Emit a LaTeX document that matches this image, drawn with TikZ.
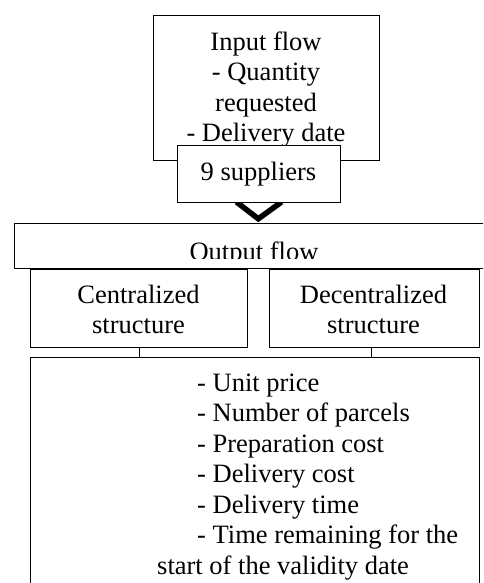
\documentclass[tikz,border=0pt]{standalone}
\usepackage{fontspec}
\setmainfont{Liberation Serif}
\begin{document}
\begin{tikzpicture}[x=1pt,y=-1pt,
  box/.style={draw, line width=1.2pt, fill=white, inner sep=0pt, anchor=north west},
  txt/.style={inner sep=0pt, font=\fontsize{26.5pt}{30.5pt}\selectfont},
  link/.style={draw, line width=1.2pt},
  chevron/.style={draw, line width=5.5pt, line join=miter},
]
% page frame (also crops the boxes that run past the edges)
\useasboundingbox (0,0) rectangle (483,583);
\clip (0,0) rectangle (483,583);
\fill[white] (0,0) rectangle (483,583);

% input flow
\node[box, minimum width=226pt, minimum height=145pt] (inbox) at (153,15) {};
\node[txt, anchor=north, align=center] (intxt) at (266,28.65)
  {\strut Input flow\\ \strut - Quantity\\ \strut requested\\ \strut - Delivery date};

% chevron under the supplier box
\coordinate (vtip) at (258.3,218.8);
\coordinate (vleft) at (236.5,202);
\coordinate (vright) at (281.5,202);
\draw[chevron] (vleft) -- (vtip) -- (vright);

% suppliers
\node[box, minimum width=163pt, minimum height=57pt] (sup) at (177,145) {};
\node[txt, anchor=base] (suptxt) at (258.5,180) {9 suppliers};

% output flow
\node[box, minimum width=490pt, minimum height=45pt] (outbox) at (14,223) {};
\begin{scope}
  \clip (14,223) rectangle (483,258);
  \node[txt, anchor=base] (outtxt) at (254,260.5) {Output flow};
\end{scope}

% structures
\node[box, minimum width=217pt, minimum height=78pt] (cent) at (30,269) {};
\node[txt, anchor=north, align=center] (centtxt) at (138.5,281.65)
  {\strut Centralized\\ \strut structure};
\node[box, minimum width=210pt, minimum height=78pt] (dec) at (269,269) {};
\node[txt, anchor=north, align=center] (dectxt) at (373.5,281.65)
  {\strut Decentralized\\ \strut structure};

% criteria
\node[box, minimum width=449pt, minimum height=260pt] (crit) at (30,357) {};
\node[txt, anchor=north west, align=left] (crittxt) at (157,369.65)
  {\strut\hspace*{40pt}- Unit price\\
   \strut\hspace*{40pt}- Number of parcels\\
   \strut\hspace*{40pt}- Preparation cost\\
   \strut\hspace*{40pt}- Delivery cost\\
   \strut\hspace*{40pt}- Delivery time\\
   \strut\hspace*{40pt}- Time remaining for the\\
   \strut start of the validity date};

% connectors from the structures to the criteria
\draw[link] (cent.south) -- (cent.south |- crit.north);
\draw[link] ([xshift=-3pt]dec.south) -- ([xshift=-3pt]dec.south |- crit.north);
\end{tikzpicture}
\end{document}
